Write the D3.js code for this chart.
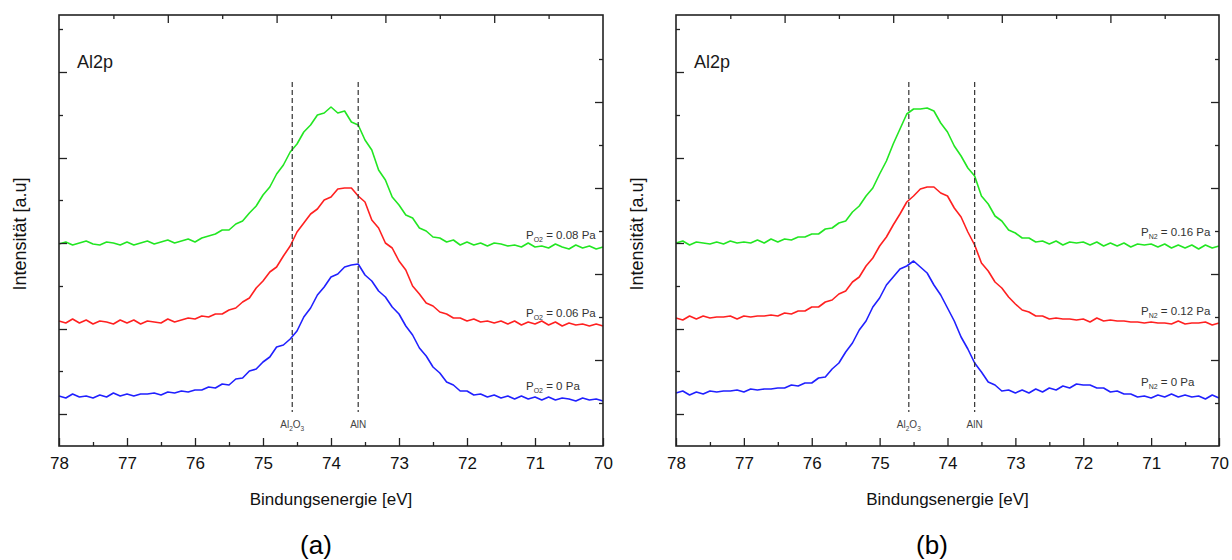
<!DOCTYPE html>
<html><head><meta charset="utf-8">
<script src="https://cdn.jsdelivr.net/npm/d3@7"></script>
<style>body{margin:0;background:#fff}svg{display:block}</style>
</head><body>
<svg id="c" width="1232" height="560"></svg>
<script>
// ---------- data ----------
const energies = d3.range(81).map(i => Math.round((78 - i * 0.1) * 10) / 10); // 78.0 -> 70.0 eV
const xTickValues = [78, 77, 76, 75, 74, 73, 72, 71, 70];
const xTickLabels = ["78", "77", "76", "75", "74", "73", "72", "71", "70"];
const xMinorTicks = [77.5, 76.5, 75.5, 74.5, 73.5, 72.5, 71.5, 70.5];
const yLeftTicks = [32, 75, 117, 160, 203, 246, 288, 331, 374, 417];
const yRightTicks = [43, 86, 129, 172, 215, 258, 301, 344, 387];
const topTicks = [1, 2, 3, 4, 5, 6, 7, 8, 9];
const refEnergies = [74.57, 73.6];
const refNames = [["Al", "2", "O", "3"], ["AlN"]];
const panelLetters = ["(a)", "(b)"];
const peakLabel = "Al2p";
const xTitle = "Bindungsenergie [eV]";
const yTitle = "Intensität [a.u]";
const gases = ["O2", "N2"];
const pressuresA = ["0.08", "0.06", "0"];
const pressuresB = ["0.16", "0.12", "0"];

// Panel (a): P_O2 series
const a_008 = [202,204,201,203,205,202,201,204,203,201, 204,201,203,205,202,204,206,203,205,207,
  204,208,210,212,216,216,222,225,233,240, 251,259,272,281,294,302,314,321,331,333,
  339,333,335,324,321,306,296,276,266,249, 241,231,228,218,215,209,208,204,206,201,
  204,201,203,200,203,202,200,201,199,203, 199,200,198,202,199,197,201,198,200,197,199];
const a_006 = [125,123,127,123,126,122,125,124,122,126, 123,126,122,125,124,123,127,124,126,128,
  127,130,129,132,132,136,138,144,148,158, 165,174,179,190,200,214,223,232,237,246,
  249,257,258,258,250,244,226,218,203,198, 185,176,160,152,143,140,134,132,128,128,
  125,127,124,125,123,125,122,125,121,124, 122,125,121,124,120,123,121,122,120,122,120];
const a_000 = [50,48,52,49,50,48,51,49,53,50, 52,50,52,52,53,51,54,53,55,54,
  56,56,59,58,62,61,67,68,75,77, 84,89,99,101,107,115,129,138,151,159,
  169,172,179,181,182,171,165,155,149,139, 132,120,111,98,90,79,73,64,61,55,
  55,51,52,49,51,48,50,47,50,47, 49,46,49,46,48,47,45,48,46,47,45];
// Panel (b): P_N2 series
const b_016 = [203,205,201,204,203,202,204,202,205,203, 204,203,206,203,207,204,207,206,209,209,
  212,212,217,218,223,225,234,240,250,258, 272,285,302,317,332,337,337,338,335,323,
  314,300,290,278,270,250,242,230,225,216, 213,208,208,204,205,202,205,201,204,203,
  204,201,204,200,203,200,203,199,202,201, 202,199,202,198,201,198,201,197,201,198,200];
const b_012 = [128,126,130,127,130,128,129,129,130,127, 130,129,130,130,131,130,133,132,135,135,
  139,139,144,146,152,155,164,169,180,188, 200,209,221,232,244,250,257,259,259,253,
  250,238,229,214,201,183,175,164,158,149, 142,136,134,130,130,127,128,127,127,126,
  127,124,128,125,126,125,125,124,124,123, 124,123,123,122,125,122,123,123,124,121,123];
const b_000 = [53,55,51,54,52,55,54,55,55,56, 54,57,56,57,57,58,58,61,60,63,
  63,68,69,77,83,94,103,116,125,139, 148,161,169,177,180,185,179,173,161,151,
  138,125,109,97,83,74,64,61,55,56, 53,56,53,57,54,58,56,60,58,62,
  61,61,58,58,54,55,52,52,49,50, 48,51,49,52,49,51,49,50,47,51,48];

// ---------- layout / style ----------
const colors = ["#22e622", "#ff2020", "#2020ff"];
const font = "'Liberation Sans', Arial, Helvetica, sans-serif";
const panels = [
  { left: 59, width: 544, series: [a_008, a_006, a_000], gas: gases[0], pressures: pressuresA,
    labelX: 467, labelY: [239, 317, 390], letterX: 316 },
  { left: 676, width: 543, series: [b_016, b_012, b_000], gas: gases[1], pressures: pressuresB,
    labelX: 465, labelY: [236, 315, 386], letterX: 932 }
];
const topY = 15, ph = 431;
const svg = d3.select("#c").style("font-family", font);

panels.forEach((p, pi) => {
  const g = svg.append("g").attr("transform", `translate(${p.left},${topY})`);
  const x = d3.scaleLinear().domain([78, 70]).range([0, p.width]);
  const y = d3.scaleLinear().domain([0, ph]).range([ph, 0]);
  const xTop = d3.scaleLinear().domain([0, 10]).range([0, p.width]);

  // curves
  const line = d3.line().x((d, i) => x(energies[i])).y(d => y(d));
  p.series.forEach((s, si) => {
    g.append("path").datum(s).attr("d", line)
      .attr("fill", "none").attr("stroke", colors[si]).attr("stroke-width", 1.6)
      .attr("stroke-linejoin", "round");
  });

  // reference dashed lines
  refEnergies.forEach((e, ri) => {
    g.append("line").attr("x1", x(e)).attr("x2", x(e)).attr("y1", y(364)).attr("y2", y(34))
      .attr("stroke", "#333").attr("stroke-width", 1.2).attr("stroke-dasharray", "5,3");
    const t = g.append("text").attr("x", x(e)).attr("y", y(18)).attr("text-anchor", "middle")
      .attr("font-size", 10).attr("fill", "#444");
    const parts = refNames[ri];
    if (parts.length === 1) t.text(parts[0]);
    else {
      t.append("tspan").text(parts[0]);
      t.append("tspan").text(parts[1]).attr("font-size", 6.5).attr("dy", 3);
      t.append("tspan").text(parts[2]).attr("dy", -3);
      t.append("tspan").text(parts[3]).attr("font-size", 6.5).attr("dy", 3);
    }
  });

  // series labels
  p.pressures.forEach((pr, si) => {
    const t = g.append("text").attr("x", p.labelX).attr("y", p.labelY[si] - topY)
      .attr("font-size", 11.5).attr("fill", "#333");
    t.append("tspan").text("P");
    t.append("tspan").text(p.gas).attr("font-size", 7).attr("dy", 3);
    t.append("tspan").text(" = " + pr + " Pa").attr("dy", -3);
  });

  // axes
  const styleAxis = sel => {
    sel.select(".domain").remove();
    sel.selectAll(".tick line").attr("stroke", "#222").attr("stroke-width", 1.3);
    sel.selectAll(".tick text").attr("font-family", font).attr("font-size", 17).attr("fill", "#111");
  };
  g.append("g").attr("transform", `translate(0,${ph})`)
    .call(d3.axisBottom(x).tickValues(xTickValues).tickSize(-8).tickPadding(11)
      .tickFormat((d, i) => xTickLabels[i])).call(styleAxis);
  g.append("g").attr("transform", `translate(0,${ph})`)
    .call(d3.axisBottom(x).tickValues(xMinorTicks).tickSize(-4).tickFormat("")).call(styleAxis);
  g.append("g")
    .call(d3.axisTop(xTop).tickValues(topTicks).tickSizeInner(0).tickFormat("")).call(styleAxis)
    .selectAll(".tick line").attr("y2", (d) => d % 2 === 0 ? 8 : 4);
  g.append("g")
    .call(d3.axisLeft(y).tickValues(yLeftTicks).tickSizeInner(0).tickFormat("")).call(styleAxis)
    .selectAll(".tick line").attr("x2", (d, i) => i % 2 === 0 ? 8 : 4);
  g.append("g").attr("transform", `translate(${p.width},0)`)
    .call(d3.axisRight(y).tickValues(yRightTicks).tickSizeInner(0).tickFormat("")).call(styleAxis)
    .selectAll(".tick line").attr("x2", (d, i) => i % 2 === 1 ? -8 : -4);

  // frame
  g.append("rect").attr("x", 0).attr("y", 0).attr("width", p.width).attr("height", ph)
    .attr("fill", "none").attr("stroke", "#222").attr("stroke-width", 1.6);

  // texts
  g.append("text").attr("x", 18).attr("y", 68 - topY).attr("font-size", 18).attr("fill", "#1a1a1a")
    .text(peakLabel);
  g.append("text").attr("x", p.width / 2).attr("y", 505 - topY).attr("text-anchor", "middle")
    .attr("font-size", 17).attr("fill", "#111").text(xTitle);
  g.append("text").attr("transform", `translate(-33,${234 - topY}) rotate(-90)`)
    .attr("text-anchor", "middle").attr("font-size", 18).attr("fill", "#111").text(yTitle);
  svg.append("text").attr("x", p.letterX).attr("y", 554).attr("text-anchor", "middle")
    .attr("font-size", 26).attr("fill", "#000").text(panelLetters[pi]);
});
</script>
</body></html>
